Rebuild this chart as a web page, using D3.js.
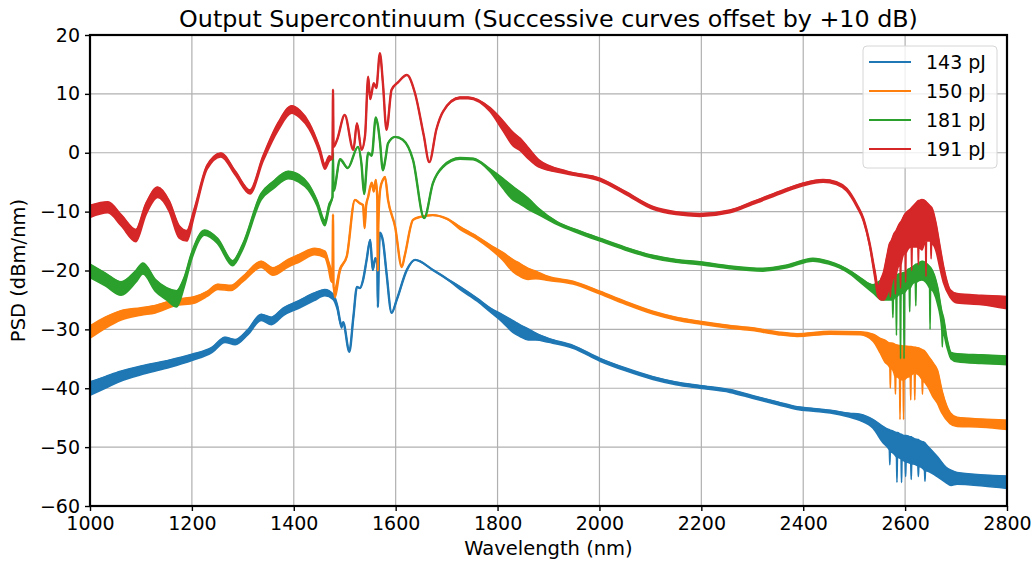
<!DOCTYPE html>
<html>
<head>
<meta charset="utf-8">
<script src="https://cdn.jsdelivr.net/npm/d3@7"></script>
<style>
  body { margin: 0; background: #fff; }
  svg text { font-family: "DejaVu Sans", sans-serif; fill: #000; }
</style>
</head>
<body>
<div id="chart"></div>
<script>
// Output supercontinuum spectra, four pulse energies (offset +10 dB each)

const xTicks = [1000, 1200, 1400, 1600, 1800, 2000, 2200, 2400, 2600, 2800];
const yTicks = [-60, -50, -40, -30, -20, -10, 0, 10, 20];
const seriesNames = ["143 pJ", "150 pJ", "181 pJ", "191 pJ"];
const seriesColors = ["#1f77b4", "#ff7f0e", "#2ca02c", "#d62728"];

// [wavelength nm, top of trace dBm/nm, bottom of noise (optional, = top when absent)]
const psd143 = [
  [1000,-39,-41.2],[1030,-38.1,-40],[1060,-37.2,-38.8],[1100,-36.3,-37.7],[1150,-35.4,-36.6],[1200,-34.3,-35.3],
  [1240,-33.1,-33.9],[1265,-31.4,-32.2],[1285,-31.8,-32.6],[1310,-30.1,-30.9],[1336,-27.5,-28.5],[1356,-28,-29.2],
  [1380,-26.4,-27.6],[1410,-25.2,-26.4],[1440,-23.9,-25.1],[1461,-23.3,-24.3],[1477,-24.1,-24.9],[1485,-25.9,-26.5],
  [1494,-29.4,-29.8],[1497,-28.8],[1509,-33.8],[1517,-27.9],[1524,-22.8],[1530,-23],[1536,-21.6],[1543,-18.2],
  [1550,-14.8],[1555,-19.9],[1560,-17.9],[1564,-19],[1565,-26.2],[1567,-18],[1569,-13.6],[1575,-15],
  [1582,-20.4],[1592,-27.2],[1602,-25],[1622,-19.9],[1638,-18.2],[1673,-19.9],[1700,-21.4],
  [1726,-22.8,-23.2],[1760,-24.8,-25.2],[1785,-26.4,-27],[1810,-27.6,-28.8],[1830,-28.6,-30.5],[1844,-29.3,-31.2],
  [1860,-30,-31.8],[1875,-30.7,-31.8],[1900,-31.6,-32.2],[1948,-32.8,-33.2],[2001,-35,-35.4],[2050,-36.6,-37],
  [2105,-38.1,-38.5],[2150,-39,-39.4],[2197,-39.6,-40],[2256,-40.3,-40.7],[2300,-41.3,-41.7],[2350,-42.4,-42.8],
  [2388,-43.2,-43.6],[2420,-43.5,-43.9],[2453,-43.8,-44.2],[2490,-44.3,-44.9],[2512,-44.5,-45.5],[2537,-45.4,-46.8],
  [2557,-46.6,-49.3],[2565,-47,-50],[2569,-47.1,-50.5],[2570,-47.2,-53],[2571,-47.2,-50.8],[2583,-47.6,-51.7],
  [2584,-47.6,-56],[2585,-47.6,-51.7],[2592,-47.9,-52],[2593,-47.9,-56],[2594,-48,-52.2],[2600,-48.1,-52.5],
  [2601,-48.1,-55],[2602,-48.1,-52.5],[2611,-48.3,-52.8],[2612,-48.3,-55.5],[2613,-48.4,-52.8],[2625,-48.8,-53.2],
  [2626,-48.8,-55],[2627,-48.9,-53.3],[2638,-49.3,-54],[2639,-49.4,-55.8],[2640,-49.5,-54],[2663,-51.7,-55],
  [2680,-53.5,-56],[2690,-54,-56.5],[2702,-54.4,-56.3],[2753,-54.8,-56.6],[2800,-55,-57]
];

const psd150 = [
  [1000,-29.5,-31.5],[1030,-28,-29.8],[1061,-26.9,-28.4],[1100,-26.4,-27.6],[1128,-26,-27.2],[1167,-25,-26],
  [1206,-24.5,-25.5],[1230,-23.6,-24.4],[1251,-22.4,-23.2],[1277,-22.6,-23.4],[1300,-21.1,-21.9],[1336,-18.5,-19.5],
  [1359,-19.6,-20.8],[1389,-18.2,-19.4],[1412,-17.3,-18.5],[1441,-16.3,-17.3],[1461,-16.8,-17.8],[1467,-18.3,-19.3],
  [1473,-20.2,-21.8],[1476,-22],[1477,-10.5],[1478,-23],[1481,-23,-24.6],[1491,-19.7,-20.1],[1504,-17.6],
  [1520,-8],[1530,-8.6],[1536,-8.9],[1539,-12.8],[1542,-9],[1546,-7.5],[1553,-5.1],[1557,-6.6],[1561,-4.6],
  [1564,-8],[1565,-20],[1566,-12],[1570,-6],[1575,-4.6],[1579,-4.1],[1585,-8],[1599,-12.6],[1612,-19.4],
  [1618,-17.4],[1634,-11.4],[1648,-10.9],[1673,-10.6],[1700,-11.2],[1726,-12.6,-13],[1760,-14.3,-14.7],
  [1785,-15.7,-16.3],[1810,-17,-18.2],[1830,-18.2,-20.2],[1844,-18.9,-21],[1860,-19.7,-21.5],[1875,-20.2,-21.4],
  [1900,-21.1,-21.7],[1948,-21.9,-22.3],[2001,-23.6,-24],[2050,-25.3,-25.7],[2105,-27,-27.4],[2150,-28,-28.4],
  [2197,-28.7,-29.1],[2256,-29.4,-29.8],[2300,-29.8,-30.2],[2350,-30.5,-30.9],[2388,-30.8,-31.2],[2453,-30.4,-30.8],
  [2512,-30.5,-30.9],[2537,-30.9,-32],[2551,-31.6,-34],[2560,-31.9,-35.5],[2570,-32.4,-36.5],[2571,-32.4,-40],
  [2572,-32.4,-36.6],[2580,-32.6,-38],[2581,-32.7,-41],[2582,-32.7,-38],[2589,-32.8,-38.4],[2590,-32.8,-45.3],
  [2591,-32.8,-38.5],[2596,-32.9,-38.6],[2597,-32.9,-45.3],[2598,-32.9,-38.6],[2610,-33,-38],[2611,-33,-42],
  [2612,-33,-37.8],[2618,-33.1,-37.5],[2619,-33.1,-42],[2620,-33.1,-37.5],[2633,-33.5,-38.5],[2634,-33.6,-41],
  [2635,-33.6,-38.8],[2645,-34.6,-39.8],[2655,-35.8,-41.5],[2663,-37,-42.5],[2672,-40.5,-44.2],[2688,-44.2,-46],
  [2702,-45,-46.5],[2750,-45.3,-46.6],[2800,-45.5,-47]
];

const psd181 = [
  [1000,-19,-21.2],[1030,-20.5,-22.6],[1061,-22,-24.2],[1090,-20.1,-22],[1104,-18.8,-20.6],[1128,-21.6,-23.5],
  [1150,-23,-25],[1170,-23.5,-26.2],[1185,-21.3,-22.8],[1200,-17,-18],[1225,-13.2,-14],[1250,-14.6,-15.4],
  [1280,-18.4,-19.2],[1300,-15.6,-16.4],[1336,-7,-8],[1360,-4.9,-6.1],[1389,-3.2,-4.4],[1410,-3.8,-5],
  [1428,-5.3,-6.3],[1445,-8.1,-8.9],[1461,-11.6,-12.4],[1470,-8.7,-9.3],[1476,-7.5],[1477,0],[1478,-6.5],
  [1491,-1.1,-1.3],[1506,-2.6],[1526,1],[1533,-2],[1538,-7],[1546,0],[1553,-0.5],[1561,6],[1565,4.7],
  [1569,2],[1575,-3],[1580,-1],[1585,1.6],[1599,2.7],[1614,2.2],[1634,-1.2],[1656,-11.1],[1673,-5.2],
  [1693,-2.3,-2.5],[1726,-0.9,-1.1],[1752,-1,-1.2],[1785,-2.8,-3.2],[1810,-4.4,-6],[1830,-5.8,-8],
  [1844,-6.7,-8.7],[1860,-7.8,-9.6],[1880,-9.5,-10.5],[1917,-11.8,-12.2],[1960,-13.3,-13.7],[2001,-14.6,-15],
  [2050,-16.1,-16.5],[2105,-17.5,-17.9],[2150,-18.2,-18.6],[2197,-18.6,-19],[2256,-19.3,-19.7],[2321,-19.7,-20.1],
  [2370,-19.1,-19.5],[2419,-18,-18.4],[2450,-18.5,-18.9],[2472,-19.2,-19.6],[2495,-20.3,-20.8],[2512,-21.3,-22],
  [2537,-22.5,-23.8],[2555,-21.6,-25],[2575,-21,-25],[2576,-21,-28],[2577,-21,-25],[2582,-20.8,-24.5],
  [2583,-20.8,-31],[2584,-20.8,-24.5],[2590,-20.6,-24],[2591,-20.6,-35],[2592,-20.6,-24],[2597,-20.4,-23.8],
  [2598,-20.4,-35],[2599,-20.4,-23.8],[2608,-19.8,-23],[2609,-19.8,-27],[2610,-19.7,-23],[2620,-19.1,-22],
  [2621,-19,-26],[2622,-19,-22],[2633,-18.5,-21.6],[2648,-19.4,-23],[2649,-19.5,-30],[2650,-19.6,-23.2],
  [2663,-22.8,-25.5],[2672,-27.2,-30],[2673,-27.5,-33],[2674,-27.8,-30.5],[2682,-31.8,-33],[2690,-34,-35],
  [2702,-34.2,-35.5],[2750,-34.4,-35.8],[2800,-34.6,-36]
];

const psd191 = [
  [1000,-9,-11],[1035,-8.4,-10.2],[1061,-10.6,-12.4],[1090,-13.1,-15.1],[1110,-8.7,-10.5],[1133,-5.9,-7.6],
  [1155,-8.2,-9.9],[1175,-12.5,-14.5],[1190,-13.3,-15],[1205,-9.6,-10.6],[1230,-2.2,-2.8],[1257,-0.1,-0.7],
  [1285,-3.2,-3.8],[1314,-6.4,-7],[1340,-0.6,-1.4],[1370,5.1,3.9],[1396,7.9,6.7],[1412,7.1,5.9],
  [1430,5,4],[1450,0.9,0.1],[1461,-2,-2.8],[1470,-0.6,-1.4],[1476,-1],[1477,10.7],[1478,1],[1485,2.2],
  [1500,6.4],[1517,0.5],[1524,5],[1533,0.5],[1540,3],[1546,12.9],[1550,9.1],[1557,11.8],[1562,11],
  [1569,16.9],[1575,11.8],[1582,3.9],[1592,10.7],[1605,12],[1622,13.2],[1638,10.1],[1655,3],[1666,-1.6],
  [1680,4],[1693,7],[1726,9.4,9.2],[1742,9.4,9.2],[1785,7.6,7],[1810,5.4,3.8],[1830,3.4,1.2],[1844,2.4,0.4],
  [1860,0.8,-1],[1880,-1.2,-2.4],[1936,-3.2,-3.6],[2001,-4.4,-4.8],[2050,-6.6,-7],[2105,-9.2,-9.6],
  [2150,-10.1,-10.5],[2197,-10.4,-10.8],[2256,-9.8,-10.2],[2300,-8.4,-8.8],[2354,-6.6,-7],[2400,-5.2,-5.6],
  [2439,-4.6,-5],[2465,-5,-5.4],[2485,-6.1,-6.5],[2505,-8.8,-9.2],[2518,-11.2,-11.6],[2530,-15.3,-15.7],
  [2540,-20,-21],[2547,-23,-24.5],[2553,-21.5,-25],[2558,-20.4,-25],[2565,-17.5,-24],[2570,-15.5,-23],
  [2571,-15.3,-24.5],[2572,-15.2,-23],[2580,-13.6,-21],[2581,-13.5,-24],[2582,-13.4,-21],[2590,-12,-19],
  [2591,-11.9,-23],[2592,-11.8,-19],[2600,-10.5,-17],[2601,-10.4,-22],[2602,-10.3,-17],[2612,-9.5,-16],
  [2613,-9.4,-20],[2614,-9.3,-16],[2625,-8.3,-16],[2626,-8.2,-19],[2627,-8.2,-16],[2633,-8,-16.5],
  [2640,-8.3,-15],[2641,-8.4,-21],[2642,-8.5,-15],[2650,-9.2,-15],[2651,-9.3,-18],[2652,-9.4,-15.5],
  [2660,-12,-16.5],[2668,-16,-19.5],[2675,-19.4,-22],[2688,-23.3,-24.5],[2702,-24,-25.5],[2750,-24.3,-25.8],
  [2800,-24.5,-26.5]
];

const allSeries = [psd143, psd150, psd181, psd191];

const W = 1034;
const H = 561;
const margin = { top: 35, right: 27, bottom: 55, left: 90 };
const width = W - margin.left - margin.right;
const height = H - margin.top - margin.bottom;

const svg = d3
  .select("#chart")
  .append("svg")
  .attr("width", W)
  .attr("height", H);

const x = d3.scaleLinear().domain([1000, 2800]).range([0, width]);
const y = d3.scaleLinear().domain([-60, 20]).range([height, 0]);

const plot = svg
  .append("g")
  .attr("transform", `translate(${margin.left},${margin.top})`);

svg
  .append("defs")
  .append("clipPath")
  .attr("id", "plot-clip")
  .append("rect")
  .attr("width", width)
  .attr("height", height);

// grid
const grid = plot.append("g").attr("class", "grid");

grid
  .selectAll("line.gx")
  .data(xTicks)
  .join("line")
  .attr("class", "gx")
  .attr("x1", (d) => x(d))
  .attr("x2", (d) => x(d))
  .attr("y1", 0)
  .attr("y2", height)
  .attr("stroke", "#b0b0b0")
  .attr("stroke-width", 1.2);

grid
  .selectAll("line.gy")
  .data(yTicks)
  .join("line")
  .attr("class", "gy")
  .attr("x1", 0)
  .attr("x2", width)
  .attr("y1", (d) => y(d))
  .attr("y2", (d) => y(d))
  .attr("stroke", "#b0b0b0")
  .attr("stroke-width", 1.2);

// curves: noise band filled under the trace, trace drawn on its top edge
const curves = plot.append("g").attr("clip-path", "url(#plot-clip)");

const band = d3
  .area()
  .x((d) => x(d[0]))
  .y0((d) => y(d.length > 2 ? d[2] : d[1]))
  .y1((d) => y(d[1]))
  .curve(d3.curveMonotoneX);

const line = d3
  .line()
  .x((d) => x(d[0]))
  .y((d) => y(d[1]))
  .curve(d3.curveMonotoneX);

allSeries.forEach((s, i) => {
  curves
    .append("path")
    .datum(s)
    .attr("d", band)
    .attr("fill", seriesColors[i])
    .attr("stroke", seriesColors[i])
    .attr("stroke-width", 1.6)
    .attr("stroke-linejoin", "round");

  curves
    .append("path")
    .datum(s)
    .attr("d", line)
    .attr("fill", "none")
    .attr("stroke", seriesColors[i])
    .attr("stroke-width", 2.4)
    .attr("stroke-linejoin", "round");
});

// axes
const xAxis = plot
  .append("g")
  .attr("transform", `translate(0,${height})`)
  .call(d3.axisBottom(x).tickValues(xTicks).tickSize(5).tickPadding(6).tickFormat(d3.format("d")));

const yAxis = plot
  .append("g")
  .call(d3.axisLeft(y).tickValues(yTicks).tickSize(5).tickPadding(5).tickFormat((d) => (d < 0 ? "\u2212" + Math.abs(d) : d)));

[xAxis, yAxis].forEach((g) => {
  g.select(".domain").remove();
  g.selectAll(".tick line").attr("stroke", "#000").attr("stroke-width", 1.4);
  g.selectAll(".tick text")
    .style("font-family", "DejaVu Sans, sans-serif")
    .style("font-size", "19px")
    .attr("fill", "#000");
});

// frame
plot
  .append("rect")
  .attr("width", width)
  .attr("height", height)
  .attr("fill", "none")
  .attr("stroke", "#000")
  .attr("stroke-width", 2.2);

// labels
svg
  .append("text")
  .attr("x", margin.left + width / 2)
  .attr("y", 27)
  .attr("text-anchor", "middle")
  .style("font-size", "23.8px")
  .text("Output Supercontinuum (Successive curves offset by +10 dB)");

svg
  .append("text")
  .attr("x", margin.left + width / 2)
  .attr("y", 555)
  .attr("text-anchor", "middle")
  .style("font-size", "19.5px")
  .text("Wavelength (nm)");

svg
  .append("text")
  .attr("transform", `translate(25,${margin.top + height / 2}) rotate(-90)`)
  .attr("text-anchor", "middle")
  .style("font-size", "19.5px")
  .text("PSD (dBm/nm)");

// legend
const legend = svg.append("g").attr("transform", "translate(863,46)");

legend
  .append("rect")
  .attr("width", 134)
  .attr("height", 122)
  .attr("rx", 4)
  .attr("fill", "#fff")
  .attr("fill-opacity", 0.8)
  .attr("stroke", "#d6d6d6")
  .attr("stroke-width", 1);

seriesNames.forEach((name, i) => {
  const yy = 16 + i * 29;
  legend
    .append("line")
    .attr("x1", 6)
    .attr("x2", 48)
    .attr("y1", yy)
    .attr("y2", yy)
    .attr("stroke", seriesColors[i])
    .attr("stroke-width", 2.2);
  legend
    .append("text")
    .attr("x", 63)
    .attr("y", yy + 7)
    .style("font-size", "19px")
    .text(name);
});
</script>
</body>
</html>
